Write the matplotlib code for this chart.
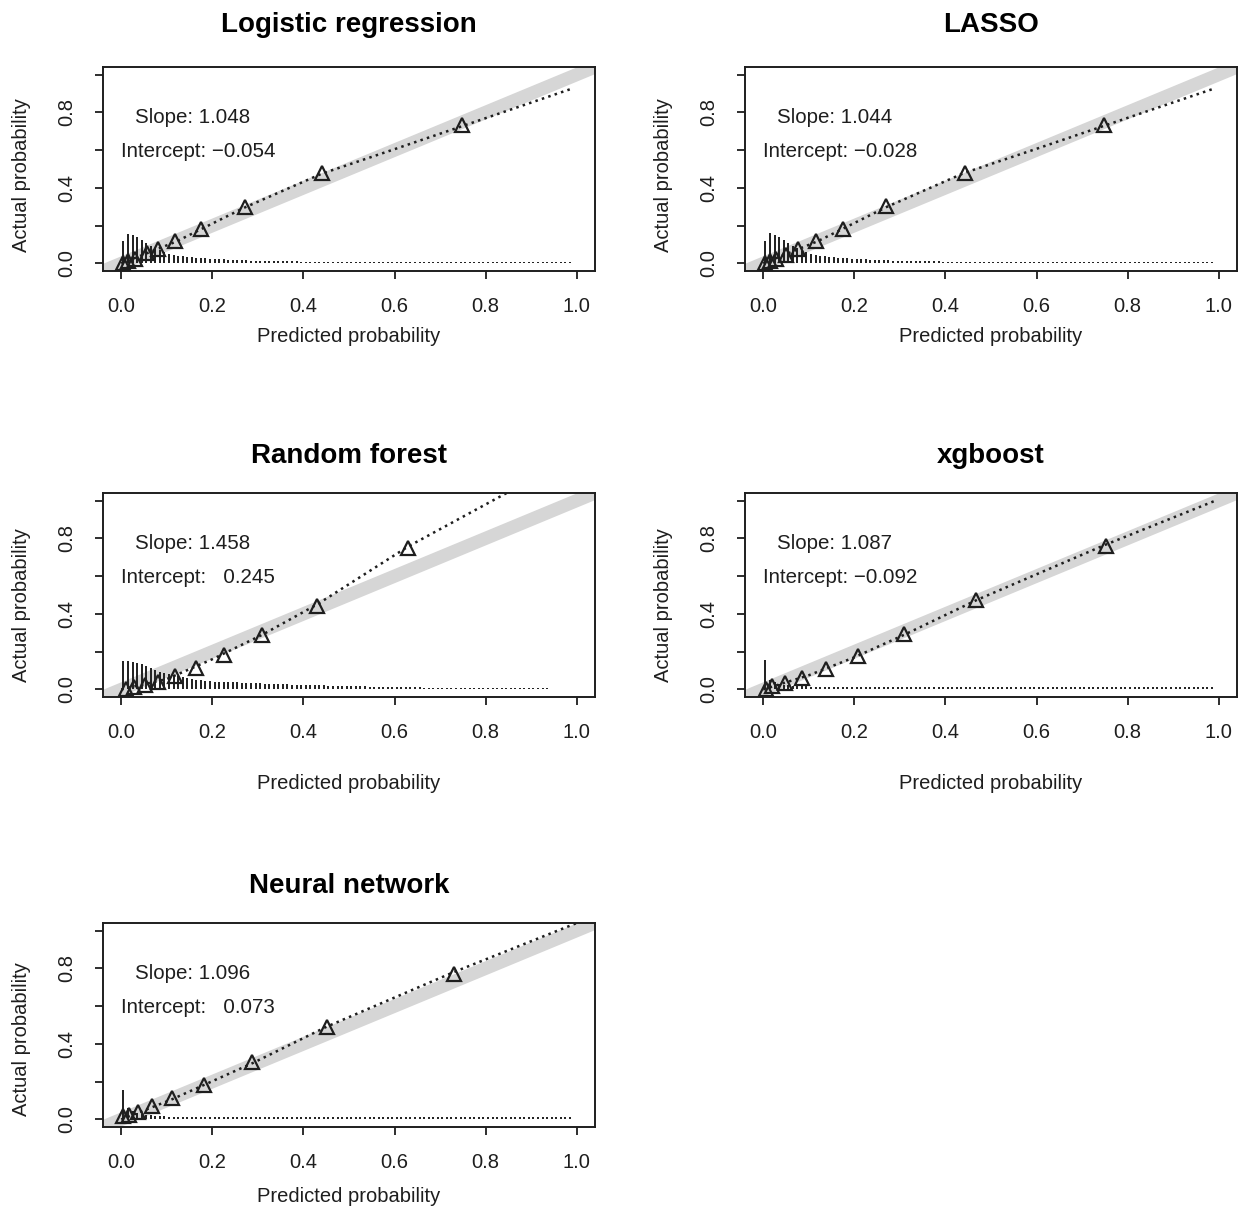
import matplotlib.pyplot as plt
import numpy as np

plt.rcParams['font.family'] = ['Liberation Sans', 'DejaVu Sans']

## ------------------------ data ------------------------------------------------#

titles = ['Logistic regression', 'LASSO', 'Random forest', 'xgboost', 'Neural network']
slopes = ['1.048', '1.044', '1.458', '1.087', '1.096']
intercepts = ['\u22120.054', '\u22120.028', '  0.245', '\u22120.092', '  0.073']

# grouped observations (triangles)
lr_x = [0.005, 0.015, 0.03, 0.057, 0.081, 0.118, 0.175, 0.272, 0.441, 0.748]
lr_y = [0.003, 0.012, 0.025, 0.053, 0.074, 0.121, 0.184, 0.300, 0.479, 0.732]
lasso_x = [0.005, 0.015, 0.028, 0.05, 0.077, 0.116, 0.176, 0.270, 0.442, 0.749]
lasso_y = [0.003, 0.012, 0.024, 0.047, 0.074, 0.121, 0.184, 0.305, 0.479, 0.732]
rf_x = [0.01, 0.028, 0.053, 0.081, 0.118, 0.164, 0.226, 0.309, 0.430, 0.629]
rf_y = [0.005, 0.011, 0.021, 0.037, 0.069, 0.116, 0.185, 0.286, 0.444, 0.751]
xgb_x = [0.007, 0.02, 0.048, 0.086, 0.138, 0.207, 0.310, 0.466, 0.752]
xgb_y = [0.005, 0.016, 0.032, 0.063, 0.106, 0.175, 0.291, 0.471, 0.762]
nn_x = [0.005, 0.018, 0.037, 0.068, 0.112, 0.182, 0.287, 0.452, 0.730]
nn_y = [0.016, 0.026, 0.042, 0.069, 0.111, 0.185, 0.302, 0.487, 0.772]

# calibration curves (dotted)
lr_cx = [0.0, 0.12, 0.27, 0.44, 0.6, 0.75, 0.99]
lr_cy = [0.0, 0.115, 0.295, 0.475, 0.605, 0.728, 0.926]
lasso_cx = [0.0, 0.12, 0.27, 0.44, 0.6, 0.75, 0.99]
lasso_cy = [0.0, 0.118, 0.298, 0.478, 0.607, 0.73, 0.926]
rf_cx = [0.0, 0.1, 0.2, 0.31, 0.43, 0.63, 0.846]
rf_cy = [0.0, 0.055, 0.16, 0.29, 0.45, 0.757, 1.04]
xgb_cx = [0.0, 0.1, 0.2, 0.31, 0.47, 0.75, 0.99]
xgb_cy = [0.0, 0.075, 0.17, 0.29, 0.475, 0.765, 0.997]
nn_cx = [0.0, 0.11, 0.29, 0.45, 0.73, 1.0]
nn_cy = [0.0, 0.105, 0.30, 0.49, 0.78, 1.04]

# spike histogram of predicted probabilities, bins of 0.01
lr_spikes = [0.12, 0.155, 0.15, 0.14, 0.125, 0.11, 0.095, 0.08, 0.07, 0.06,
             0.05, 0.045, 0.04, 0.037, 0.035, 0.033, 0.031, 0.03, 0.028, 0.026,
             0.024, 0.022, 0.021, 0.02, 0.019, 0.018, 0.017, 0.016, 0.015, 0.015,
             0.014, 0.014, 0.013, 0.013, 0.012, 0.012, 0.011, 0.011, 0.011, 0.01] + [0.01] * 59
lasso_spikes = [0.12, 0.16, 0.15, 0.14, 0.125, 0.11, 0.095, 0.08, 0.068, 0.058,
                0.05, 0.045, 0.04, 0.037, 0.035, 0.033, 0.031, 0.03, 0.028, 0.026,
                0.024, 0.022, 0.021, 0.02, 0.019, 0.018, 0.017, 0.016, 0.015, 0.015,
                0.014, 0.014, 0.013, 0.013, 0.012, 0.012, 0.011, 0.011, 0.011, 0.01] + [0.01] * 59
rf_spikes = [0.15, 0.15, 0.145, 0.14, 0.135, 0.125, 0.115, 0.105, 0.095, 0.085,
             0.08, 0.075, 0.07, 0.065, 0.06, 0.056, 0.052, 0.048, 0.045, 0.043,
             0.042, 0.041, 0.04, 0.039, 0.038, 0.037, 0.036, 0.035, 0.034, 0.033,
             0.032, 0.031, 0.03, 0.029, 0.028, 0.027, 0.027, 0.026, 0.026, 0.025,
             0.024, 0.023, 0.022, 0.021, 0.021, 0.02, 0.02, 0.019, 0.019, 0.018,
             0.018, 0.017, 0.016, 0.016, 0.015, 0.015, 0.014, 0.014, 0.013, 0.013,
             0.012, 0.012, 0.012, 0.011, 0.011, 0.011, 0.01, 0.01, 0.01, 0.01] + [0.009] * 24
xgb_spikes = [0.155, 0.05, 0.04, 0.03, 0.025, 0.022, 0.02, 0.018, 0.017, 0.016] + [0.014] * 89
nn_spikes = [0.155, 0.06, 0.045, 0.035, 0.03, 0.025, 0.022, 0.02, 0.018, 0.016] + [0.013] * 89

groups_x = [lr_x, lasso_x, rf_x, xgb_x, nn_x]
groups_y = [lr_y, lasso_y, rf_y, xgb_y, nn_y]
curves_x = [lr_cx, lasso_cx, rf_cx, xgb_cx, nn_cx]
curves_y = [lr_cy, lasso_cy, rf_cy, xgb_cy, nn_cy]
spikes = [lr_spikes, lasso_spikes, rf_spikes, xgb_spikes, nn_spikes]

## ------------------------ layout -----------------------------------------------#

ink = '#1e1e1e'
W, H = 1239, 1210
box_w, box_h = 492, 204
lefts = [103, 745, 103, 745, 103]
bottoms = [271, 271, 697, 697, 1127]
title_off = [1.206, 1.206, 1.181, 1.181, 1.181]
xlab_off = [-0.319, -0.319, -0.424, -0.424, -0.343]
ylab_off = [0.47, 0.47, 0.45, 0.45, 0.43]

fig = plt.figure(figsize=(W / 100, H / 100), dpi=100)

for i in range(5):
    ax = fig.add_axes([lefts[i] / W, (H - bottoms[i]) / H, box_w / W, box_h / H])
    ax.set_xlim(-0.04, 1.04)
    ax.set_ylim(-0.04, 1.04)

    # ideal line
    ax.axline((0, 0), slope=1, color='#d6d6d6', lw=9.5, solid_capstyle='butt', zorder=1)

    # spike histogram
    h = spikes[i]
    bx = np.arange(len(h)) * 0.01 + 0.005
    ax.vlines(bx, 0, h, color=ink, lw=1.4, zorder=2)

    # calibration curve + groups
    ax.plot(curves_x[i], curves_y[i], color=ink, lw=1.8, linestyle=(0, (1, 1.7)), zorder=3)
    ax.plot(groups_x[i], groups_y[i], linestyle='none', marker='^', mfc='none',
            mec=ink, ms=10, mew=1.6, zorder=4)

    ax.text(0.03, 0.775, 'Slope: ' + slopes[i], fontsize=14.8, color=ink, ha='left', va='center')
    ax.text(0.0, 0.595, 'Intercept: ' + intercepts[i], fontsize=14.8, color=ink, ha='left', va='center')

    ax.set_xticks([0, 0.2, 0.4, 0.6, 0.8, 1.0])
    ax.set_xticklabels(['0.0', '0.2', '0.4', '0.6', '0.8', '1.0'])
    ax.set_yticks([0, 0.2, 0.4, 0.6, 0.8, 1.0])
    ax.set_yticklabels(['0.0', '', '0.4', '', '0.8', ''], rotation=90, va='center')
    ax.tick_params(direction='out', length=6, width=1.3, color=ink, labelcolor=ink,
                   labelsize=14.5, pad=13)
    for s in ax.spines.values():
        s.set_linewidth(1.4)
        s.set_color(ink)

    ax.text(0.5, title_off[i], titles[i], transform=ax.transAxes, ha='center', va='center',
            fontsize=20, fontweight='bold', color='black')
    ax.text(0.5, xlab_off[i], 'Predicted probability', transform=ax.transAxes,
            ha='center', va='center', fontsize=14.5, color=ink)
    ax.text(-0.165, ylab_off[i], 'Actual probability', transform=ax.transAxes,
            ha='center', va='center', rotation=90, fontsize=14.5, color=ink)

plt.savefig('out.png', dpi=100)
